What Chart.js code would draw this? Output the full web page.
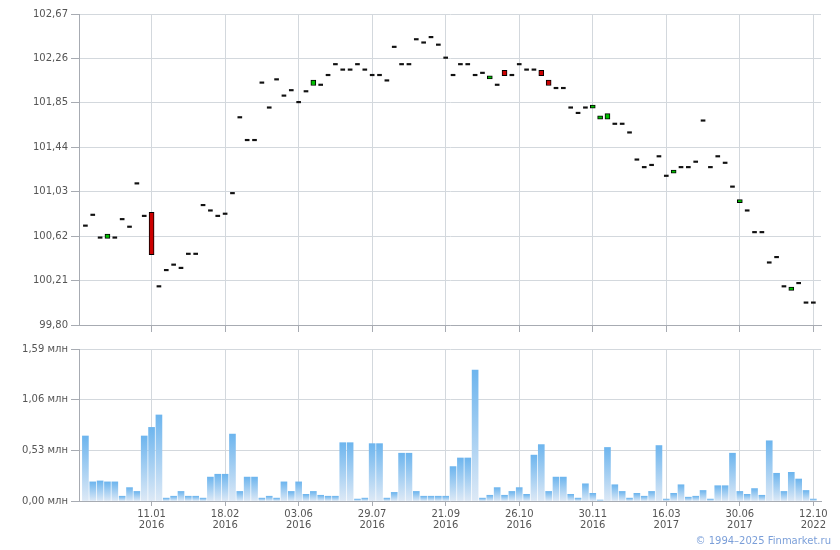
<!DOCTYPE html>
<html>
<head>
<meta charset="utf-8">
<script src="https://cdn.jsdelivr.net/npm/chart.js@4"></script>
<style>
  body { margin: 0; background: #fff; }
  #wrap { position: relative; width: 840px; height: 550px; }
  #price { position: absolute; left: 0; top: 0; }
  #volume { position: absolute; left: 0; top: 340px; }
  #copy { position: absolute; right: 9px; top: 535px; font: 10px "DejaVu Sans", Verdana, sans-serif; color: #7b9fd9; }
</style>
</head>
<body>
<div id="wrap">
  <canvas id="price" width="840" height="334"></canvas>
  <canvas id="volume" width="840" height="210"></canvas>
  <div id="copy">© 1994–2025 Finmarket.ru</div>
</div>
<script>
// price per bar (open / close)
const openPrice = [
  100.71, 100.81, 100.60, 100.60, 100.60, 100.77, 100.70, 101.10, 100.80, 100.84,
  100.15, 100.30, 100.35, 100.32, 100.45, 100.45, 100.90, 100.85, 100.80, 100.82,
  101.01, 101.71, 101.50, 101.50, 102.03, 101.80, 102.06, 101.91, 101.96, 101.85,
  101.95, 102.01, 102.01, 102.10, 102.20, 102.15, 102.15, 102.20, 102.15, 102.10,
  102.10, 102.05, 102.36, 102.20, 102.20, 102.43, 102.40, 102.45, 102.38, 102.26,
  102.10, 102.20, 102.20, 102.10, 102.12, 102.07, 102.01, 102.15, 102.10, 102.20,
  102.15, 102.15, 102.15, 102.06, 101.98, 101.98, 101.80, 101.75, 101.80, 101.80,
  101.70, 101.70, 101.65, 101.65, 101.57, 101.32, 101.25, 101.27, 101.35, 101.17,
  101.20, 101.25, 101.25, 101.30, 101.68, 101.25, 101.35, 101.29, 101.07, 100.93,
  100.85, 100.65, 100.65, 100.37, 100.42, 100.15, 100.12, 100.18, 100.00, 100.00
];
const closePrice = [
  100.71, 100.81, 100.60, 100.64, 100.60, 100.77, 100.70, 101.10, 100.80, 100.45,
  100.15, 100.30, 100.35, 100.32, 100.45, 100.45, 100.90, 100.85, 100.80, 100.82,
  101.01, 101.71, 101.50, 101.50, 102.03, 101.80, 102.06, 101.91, 101.96, 101.85,
  101.95, 102.06, 102.01, 102.10, 102.20, 102.15, 102.15, 102.20, 102.15, 102.10,
  102.10, 102.05, 102.36, 102.20, 102.20, 102.43, 102.40, 102.45, 102.38, 102.26,
  102.10, 102.20, 102.20, 102.10, 102.12, 102.10, 102.01, 102.10, 102.10, 102.20,
  102.15, 102.15, 102.10, 102.01, 101.98, 101.98, 101.80, 101.75, 101.80, 101.83,
  101.73, 101.75, 101.65, 101.65, 101.57, 101.32, 101.25, 101.27, 101.35, 101.17,
  101.23, 101.25, 101.25, 101.30, 101.68, 101.25, 101.35, 101.29, 101.07, 100.95,
  100.85, 100.65, 100.65, 100.37, 100.42, 100.15, 100.15, 100.18, 100.00, 100.00
];
// volume, млн
const volume = [
  0.68, 0.20, 0.21, 0.20, 0.20, 0.05, 0.14, 0.10, 0.68, 0.77,
  0.90, 0.03, 0.05, 0.10, 0.05, 0.05, 0.03, 0.25, 0.28, 0.28,
  0.70, 0.10, 0.25, 0.25, 0.03, 0.05, 0.03, 0.20, 0.10, 0.20,
  0.07, 0.10, 0.06, 0.05, 0.05, 0.61, 0.61, 0.02, 0.03, 0.60,
  0.60, 0.03, 0.09, 0.50, 0.50, 0.10, 0.05, 0.05, 0.05, 0.05,
  0.36, 0.45, 0.45, 1.37, 0.03, 0.06, 0.14, 0.06, 0.10, 0.14,
  0.07, 0.48, 0.59, 0.10, 0.25, 0.25, 0.07, 0.03, 0.18, 0.08,
  0.01, 0.56, 0.17, 0.10, 0.03, 0.08, 0.05, 0.10, 0.58, 0.02,
  0.08, 0.17, 0.04, 0.05, 0.11, 0.02, 0.16, 0.16, 0.50, 0.10,
  0.07, 0.13, 0.06, 0.63, 0.29, 0.10, 0.30, 0.23, 0.11, 0.02
];

// x axis: a labelled tick every 10 bars
const tickBars = [9, 19, 29, 39, 49, 59, 69, 79, 89, 99];
const tickDates = ['11.01', '18.02', '03.06', '29.07', '21.09', '26.10', '30.11', '16.03', '30.06', '12.10'];
const tickYears = ['2016', '2016', '2016', '2016', '2016', '2016', '2016', '2017', '2017', '2022'];

const priceTicks = [99.80, 100.21, 100.62, 101.03, 101.44, 101.85, 102.26, 102.67];
const volumeTicks = [0, 0.53, 1.06, 1.59];

const gridColor = '#d3d8dd';
const axisColor = '#a7abb2';

Chart.defaults.font.family = '"DejaVu Sans", Verdana, sans-serif';
Chart.defaults.font.size = 10;
Chart.defaults.color = '#555';

function comma(v) {
  return v.toFixed(2).replace('.', ',');
}

function xAxis(showLabels, tickLen, height) {
  return {
    type: 'linear',
    min: -0.87,
    max: 100.04,
    offset: false,
    afterBuildTicks: s => { s.ticks = tickBars.map(v => ({ value: v })); },
    afterFit: s => { s.height = height; },
    grid: { offset: false, color: gridColor, tickColor: axisColor, tickLength: tickLen },
    border: { color: axisColor },
    ticks: {
      display: showLabels,
      autoSkip: false,
      maxRotation: 0,
      padding: 3,
      font: { lineHeight: 1.1 },
      callback: (v, i) => [tickDates[i], tickYears[i]]
    }
  };
}

function yAxis(min, max, list, fmt) {
  return {
    min: min,
    max: max,
    afterBuildTicks: s => { s.ticks = list.map(v => ({ value: v })); },
    afterFit: s => { s.width = 79; },
    grid: { color: gridColor, tickColor: axisColor, tickLength: 8 },
    border: { color: axisColor },
    ticks: { padding: 3, callback: fmt }
  };
}

// candles with a body (open != close) and flat ones drawn as dashes
const bodies = [];
const dashes = [];
openPrice.forEach((o, i) => {
  const c = closePrice[i];
  if (o === c) dashes.push({ x: i, y: [o, c] });
  else bodies.push({ x: i, y: [o, c], up: c > o });
});

new Chart(document.getElementById('price'), {
  type: 'bar',
  data: {
    datasets: [{
      data: bodies,
      backgroundColor: ctx => (ctx.raw && ctx.raw.up ? '#00c000' : '#cc0000'),
      borderColor: '#000',
      borderWidth: 1,
      borderSkipped: false,
      barThickness: 5,
      minBarLength: 3,
      grouped: false
    }, {
      data: dashes,
      backgroundColor: '#111',
      borderWidth: 0,
      barThickness: 4,
      minBarLength: 1.5,
      grouped: false
    }]
  },
  options: {
    responsive: false,
    animation: false,
    layout: { padding: { top: 14, right: 19, left: 0, bottom: 0 } },
    plugins: { legend: { display: false }, tooltip: { enabled: false } },
    scales: {
      x: xAxis(false, 7, 8),
      y: yAxis(99.80, 102.67, priceTicks, v => comma(v))
    }
  }
});

function volumeFill(ctx) {
  const chart = ctx.chart;
  if (!chart.chartArea || !ctx.parsed) return '#9ccbf2';
  const y = chart.scales.y;
  const top = y.getPixelForValue(ctx.parsed.y);
  const bottom = y.getPixelForValue(0);
  const g = chart.ctx.createLinearGradient(0, top, 0, bottom);
  g.addColorStop(0, '#6db5ee');
  g.addColorStop(1, '#dde9f6');
  return g;
}

new Chart(document.getElementById('volume'), {
  type: 'bar',
  data: {
    datasets: [{
      data: volume.map((v, i) => ({ x: i, y: v })),
      backgroundColor: volumeFill,
      borderWidth: 0,
      barThickness: 6
    }]
  },
  options: {
    responsive: false,
    animation: false,
    layout: { padding: { top: 9, right: 19, left: 0, bottom: 0 } },
    plugins: { legend: { display: false }, tooltip: { enabled: false } },
    scales: {
      x: xAxis(true, 5, 49),
      y: yAxis(0, 1.59, volumeTicks, v => comma(v) + ' млн')
    }
  }
});
</script>
</body>
</html>
